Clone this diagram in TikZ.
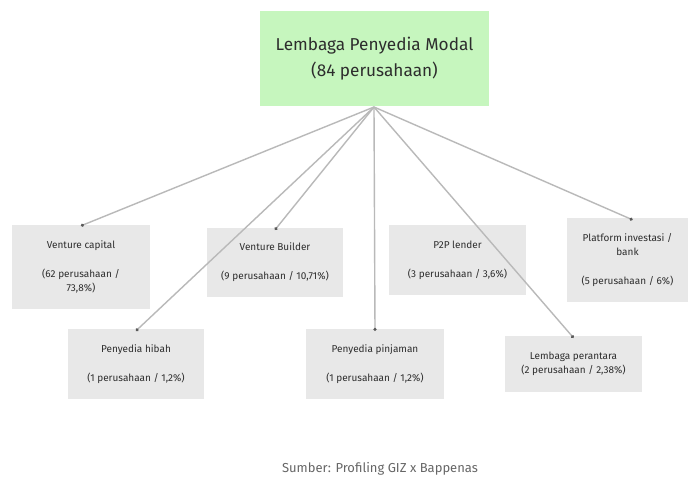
\documentclass[tikz,border=0pt]{standalone}
\usepackage{fontspec}
\setmainfont{Fira Sans}
\usetikzlibrary{arrows.meta}
\definecolor{topgreen}{RGB}{198,246,190}
\definecolor{boxgray}{RGB}{232,232,232}
\definecolor{linegray}{RGB}{185,185,185}
\definecolor{dotgray}{RGB}{90,90,90}
\definecolor{txtgray}{RGB}{45,45,45}
\begin{document}
\begin{tikzpicture}[x=1pt,y=-1pt,
  catbox/.style={fill=boxgray,inner sep=0pt,align=center,text=txtgray,
    font=\fontsize{10}{14}\selectfont},
  topbox/.style={fill=topgreen,inner sep=0pt,align=center,text=txtgray,
    minimum width=229pt,minimum height=95pt,font=\fontsize{17.2}{26}\selectfont},
  link/.style={draw=linegray,line width=1.4pt,-{Circle[length=3pt,color=dotgray]}},
  foot/.style={text=black!60,font=\fontsize{13}{14}\selectfont,inner sep=0pt}]
\useasboundingbox (0,0) rectangle (689,485);
\fill[white] (0,0) rectangle (689,485);
\node[topbox] (top) at (374.5,58.5) {Lembaga Penyedia Modal\\(84 perusahaan)};
\coordinate (hub) at (374,107);
\node[catbox,minimum width=138pt,minimum height=84pt] (vc) at (81,267)
  {Venture capital\\[15pt](62 perusahaan /\\73,8\%)};
\node[catbox,minimum width=136pt,minimum height=69pt] (vb) at (275,262.5)
  {Venture Builder\\[15pt](9 perusahaan / 10,71\%)};
\node[catbox,minimum width=137pt,minimum height=70pt] (p2p) at (457.5,260)
  {P2P lender\\[15pt](3 perusahaan / 3,6\%)};
\node[catbox,minimum width=121pt,minimum height=84pt] (pl) at (627.5,260)
  {Platform investasi /\\bank\\[15pt](5 perusahaan / 6\%)};
\node[catbox,minimum width=136pt,minimum height=70pt] (hib) at (136,364)
  {Penyedia hibah\\[15pt](1 perusahaan / 1,2\%)};
\node[catbox,minimum width=138pt,minimum height=70pt] (pin) at (375,364)
  {Penyedia pinjaman\\[15pt](1 perusahaan / 1,2\%)};
\node[catbox,minimum width=137pt,minimum height=56pt] (lem) at (573.5,364)
  {Lembaga perantara\\(2 perusahaan / 2,38\%)};
\draw[link] (hub) -- ([yshift=-1pt]vc.north);
\draw[link] (hub) -- ([yshift=-2pt]vb.north);
\draw[link] (hub) -- ([xshift=5pt,yshift=-2pt]pl.north);
\draw[link] (hub) -- ([yshift=-2pt]hib.north);
\draw[link] (hub) -- ([yshift=-2pt]pin.north);
\draw[link] (hub) -- ([yshift=-2pt]lem.north);
\node[foot] (src) at (380,469) {Sumber: Profiling GIZ x Bappenas};
\end{tikzpicture}
\end{document}
